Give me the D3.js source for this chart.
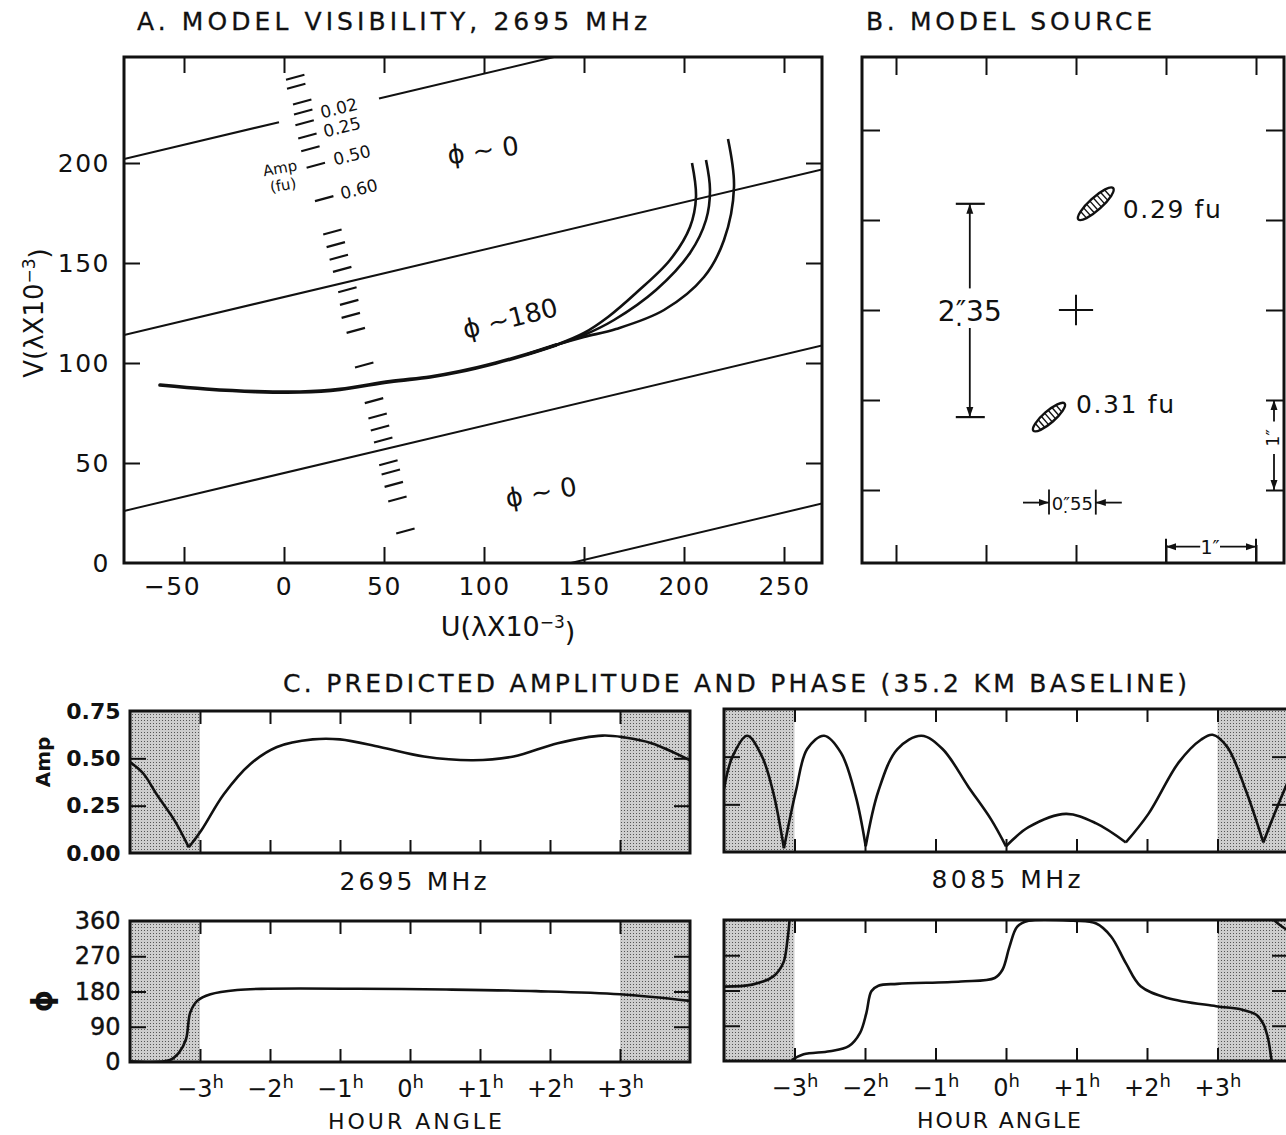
<!DOCTYPE html>
<html>
<head>
<meta charset="utf-8">
<script src="https://cdn.jsdelivr.net/npm/d3@7"></script>
<style>
body { margin: 0; background: #fff; }
svg { display: block; font-family: "DejaVu Sans", sans-serif; }
</style>
</head>
<body>
<div id="chart-area"></div>
<script>
/*
*    model visibility / source / predicted amp + phase
*/

var width = 1286
var height = 1135
var ink = "#111"

// ---- A. uv track (u, v in units of 1000 wavelengths)
var trackCommon = [[-62,89],[-39,87],[-14,85.7],[8,85.5],[28,86.8],[53,90.7],[73,93],[88,95.7],[106,100],[122,104.5],[136,109]]
var trackInner = [[122,104.5],[136,109],[150,115],[162,123],[176,135],[193,151.5],[203,168],[206,183],[204,200]]
var trackMiddle = [[122,104.5],[136,109],[150,114],[165,121.5],[186,136.5],[203,155],[211,171.5],[213,186.5],[211,201.5]]
var trackOuter = [[122,104.5],[136,109],[150,113],[166,117],[190,126.5],[210,143],[220,161.5],[225,188],[222,212]]

// phase boundaries: v = intercept + slope * u
var phaseSlope = 0.237
var phaseIntercepts = [221, 133, 45, -34]
var line1Gap = [-2.5, 47.5]

// amplitude scale marks along the track
var ampMarks = [[5.6,242.9],[6.1,238.4],[9.1,230.5],[9.6,225.5],[10.3,220.1],[11.7,213.5],[13.2,207.1],[15.9,198.9],
  [20.1,182.2],[24.2,165.5],[25.9,159.2],[27.4,152.9],[29.1,146.8],[31.7,136.6],[32.6,130.3],[33.4,123.8],[35.9,116.3],
  [40.1,99],[45,81.2],[46.8,73.5],[48,67.5],[49.6,61.5],[52.2,50.1],[53.4,45.5],[54.9,39.3],[56.7,32],[60.7,16]]
var ampMarkLabels = [["0.02",27.5,227.5],["0.25",29,218],["0.50",34,204],["0.60",37.5,187]]
var ampUnitLabels = [["Amp",-2,197.5],["(fu)",-0.5,189]]
var phaseZoneLabels = [["\u03D5 ~ 0",99.5,206.5,-8],["\u03D5 ~180",113,122.5,-14],["\u03D5 ~ 0",128.5,35.5,-10]]

var uTicks = [-50, 0, 50, 100, 150, 200, 250]
var vTicks = [0, 50, 100, 150, 200]

// ---- B. model source (arcsec from centre)
var srcTicks = [-2, -1, 0, 1, 2]
var components = [
  {x: 0.22, y: 1.18, major: 0.52, minor: 0.14, angle: 42, label: "0.29 fu", lx: 0.52, ly: 1.02},
  {x: -0.30, y: -1.19, major: 0.46, minor: 0.13, angle: 41, label: "0.31 fu", lx: 0.0, ly: -1.14}
]

// ---- C. predicted amplitude and phase vs hour angle
var hours = [-3, -2, -1, 0, 1, 2, 3]
var ampTicks = [0, 0.25, 0.5, 0.75]
var phaseTicks = [0, 90, 180, 270, 360]

var amp2695 = [[-4,0.48],[-3.81,0.42],[-3.62,0.31],[-3.36,0.17],[-3.16,0.03],[-2.98,0.12],[-2.66,0.31],[-2.28,0.47],
  [-1.9,0.56],[-1.39,0.60],[-1.0,0.60],[-0.43,0.56],[0.2,0.51],[0.9,0.49],[1.48,0.51],[2.11,0.58],[2.75,0.62],
  [3.07,0.61],[3.45,0.58],[4,0.49]]
var phase2695 = [[[-4,2],[-3.43,5],[-3.3,24],[-3.2,58],[-3.14,126],[-3.04,156],[-2.85,173],[-2.47,184],[-2.03,187],
  [-0.75,187],[0.52,185],[1.8,181],[3.0,173],[4.0,156]]]

var amp8085 = [[-4,0.33],[-3.88,0.50],[-3.67,0.61],[-3.46,0.50],[-3.3,0.31],[-3.15,0.02],[-2.98,0.32],[-2.82,0.54],
  [-2.58,0.61],[-2.34,0.52],[-2.13,0.29],[-1.99,0.03],[-1.81,0.32],[-1.54,0.54],[-1.2,0.61],[-0.9,0.54],[-0.53,0.34],
  [-0.21,0.17],[0,0.03],[0.32,0.13],[0.85,0.20],[1.28,0.15],[1.7,0.05],[2.02,0.20],[2.45,0.47],[2.77,0.59],
  [2.93,0.615],[3.14,0.55],[3.4,0.325],[3.65,0.05],[3.83,0.22],[4,0.37]]
var phase8085 = [
  [[-4,190],[-3.6,195],[-3.3,216],[-3.16,250],[-3.1,309],[-3.07,360]],
  [[-3.04,2],[-2.87,17],[-2.5,25],[-2.23,38],[-2.07,72],[-1.98,123],[-1.91,178],[-1.81,192],[-1.54,197],[-0.64,203],
   [-0.16,212],[-0.05,233],[0.05,292],[0.16,343],[0.32,358],[0.96,358],[1.28,351],[1.49,318],[1.7,250],[1.91,191],
   [2.29,161],[2.98,140],[3.35,131],[3.55,118],[3.65,95],[3.72,55],[3.76,10],[3.77,0]],
  [[3.8,360],[3.88,348],[4,333]]
]

var svg = d3.select("#chart-area").append("svg")
.attr("width", width)
.attr("height", height)

var defs = svg.append("defs")

var pat = defs.append("pattern").attr("id", "stipple")
.attr("width", 3).attr("height", 3).attr("patternUnits", "userSpaceOnUse")
pat.append("rect").attr("width", 3).attr("height", 3).attr("fill", "#cdcdcd")
pat.append("rect").attr("width", 1).attr("height", 1).attr("fill", "#555")

defs.append("marker").attr("id", "arrow")
.attr("viewBox", "0 0 10 10").attr("refX", 10).attr("refY", 5)
.attr("markerWidth", 10).attr("markerHeight", 10)
.attr("markerUnits", "userSpaceOnUse").attr("orient", "auto")
.append("path").attr("d", "M0,1.5 L10,5 L0,8.5 Z").attr("fill", ink)

var clipCount = 0
function clipTo(x, y, w, h) {
	var id = "clip" + (clipCount++)
	defs.append("clipPath").attr("id", id)
	.append("rect").attr("x", x).attr("y", y).attr("width", w).attr("height", h)
	return "url(#" + id + ")"
}

function styleAxis(sel, size) {
	sel.attr("font-size", null).attr("font-family", null)
	sel.select(".domain").remove()
	sel.selectAll(".tick line").attr("stroke", ink).attr("stroke-width", 2)
	sel.selectAll(".tick text").attr("fill", ink).attr("font-size", size)
}

function title(txt, x, y, len) {
	svg.append("text")
	.attr("x", x).attr("y", y)
	.attr("font-size", 25)
	.attr("textLength", len).attr("lengthAdjust", "spacing")
	.attr("fill", ink).attr("stroke", ink).attr("stroke-width", 0.3)
	.text(txt)
}

// TITLES
title("A. MODEL VISIBILITY, 2695 MHz", 137, 30, 510)
title("B. MODEL SOURCE", 866, 30, 286)
title("C. PREDICTED AMPLITUDE AND PHASE (35.2 KM BASELINE)", 283, 692, 904)

// ================= PANEL A =================
var xA = d3.scaleLinear().domain([-80, 269]).range([124, 822])
var yA = d3.scaleLinear().domain([0, 253]).range([563, 57])

var gA = svg.append("g")
var clipA = clipTo(124, 57, 698, 506)
var lineA = d3.line().x(d => xA(d[0])).y(d => yA(d[1]))

// phase boundary lines
var boundarySegs = []
phaseIntercepts.forEach((b, i) => {
	var f = u => [u, b + phaseSlope * u]
	if (i == 0) {
		boundarySegs.push([f(-80), f(line1Gap[0])])
		boundarySegs.push([f(line1Gap[1]), f(269)])
	} else {
		boundarySegs.push([f(-80), f(269)])
	}
})
gA.append("g").attr("clip-path", clipA)
.selectAll("path").data(boundarySegs).enter().append("path")
.attr("d", lineA)
.attr("fill", "none").attr("stroke", ink).attr("stroke-width", 2)

// amplitude marks
gA.selectAll(".mark").data(ampMarks).enter().append("line")
.attr("class", "mark")
.attr("x1", d => xA(d[0] - 4.6)).attr("y1", d => yA(d[1] - 1.25))
.attr("x2", d => xA(d[0] + 4.6)).attr("y2", d => yA(d[1] + 1.25))
.attr("stroke", ink).attr("stroke-width", 2.2)

gA.selectAll(".marklabel").data(ampMarkLabels).enter().append("text")
.attr("transform", d => "translate(" + xA(d[1]) + "," + yA(d[2]) + ") rotate(-14)")
.attr("text-anchor", "middle").attr("dy", "0.36em")
.attr("font-size", 17).attr("fill", ink)
.text(d => d[0])

gA.selectAll(".unitlabel").data(ampUnitLabels).enter().append("text")
.attr("transform", d => "translate(" + xA(d[1]) + "," + yA(d[2]) + ") rotate(-10)")
.attr("text-anchor", "middle").attr("dy", "0.36em")
.attr("font-size", 15).attr("fill", ink)
.text(d => d[0])

// uv track
var trackLine = d3.line().x(d => xA(d[0])).y(d => yA(d[1])).curve(d3.curveCatmullRom)
gA.selectAll(".branch").data([trackInner, trackMiddle, trackOuter]).enter().append("path")
.attr("d", trackLine)
.attr("fill", "none").attr("stroke", ink).attr("stroke-width", 2.6)
gA.append("path").attr("d", trackLine(trackCommon))
.attr("fill", "none").attr("stroke", ink).attr("stroke-width", 3.6).attr("stroke-linecap", "round")

// phase zone labels
gA.selectAll(".zone").data(phaseZoneLabels).enter().append("text")
.attr("transform", d => "translate(" + xA(d[1]) + "," + yA(d[2]) + ") rotate(" + d[3] + ")")
.attr("text-anchor", "middle").attr("dy", "0.36em")
.attr("font-size", 26).attr("fill", ink)
.text(d => d[0])

// axes
var fmtSigned = d => d < 0 ? "\u2212" + Math.abs(d) : d
gA.append("g").attr("transform", "translate(0,563)")
.call(d3.axisBottom(xA).tickValues(uTicks).tickSize(-16).tickPadding(14).tickFormat(fmtSigned))
.call(g => styleAxis(g, 25))
.selectAll(".tick text").attr("letter-spacing", 1.5).attr("dx", d => d < 0 ? -12 : 0)

gA.append("g").attr("transform", "translate(0,57)")
.call(d3.axisTop(xA).tickValues(uTicks).tickSize(-16).tickFormat(""))
.call(g => styleAxis(g, 24))

gA.append("g").attr("transform", "translate(124,0)")
.call(d3.axisLeft(yA).tickValues(vTicks).tickSize(-16).tickPadding(14))
.call(g => styleAxis(g, 25))
.call(g => g.selectAll(".tick text").attr("letter-spacing", 1.5))
.selectAll(".tick line").filter(d => d == 0).remove()

gA.append("g").attr("transform", "translate(822,0)")
.call(d3.axisRight(yA).tickValues(vTicks.slice(1)).tickSize(-16).tickFormat(""))
.call(g => styleAxis(g, 24))

gA.append("rect").attr("x", 124).attr("y", 57).attr("width", 698).attr("height", 506)
.attr("fill", "none").attr("stroke", ink).attr("stroke-width", 3)

// axis titles
var vLabel = gA.append("text")
.attr("transform", "translate(43,313) rotate(-90)")
.attr("text-anchor", "middle").attr("font-size", 26).attr("fill", ink)
vLabel.append("tspan").text("V(\u03BBX10")
vLabel.append("tspan").attr("dy", "-0.5em").attr("font-size", 17).text("\u22123")
vLabel.append("tspan").attr("dy", "0.5em").text(")")

var uLabel = gA.append("text")
.attr("x", 508).attr("y", 636)
.attr("text-anchor", "middle").attr("font-size", 27).attr("fill", ink)
uLabel.append("tspan").text("U(\u03BBX10")
uLabel.append("tspan").attr("dy", "-0.5em").attr("font-size", 17).text("\u22123")
uLabel.append("tspan").attr("dy", "0.5em").text(")")

// ================= PANEL B =================
var xB = d3.scaleLinear().domain([-214 / 90, 208 / 90]).range([862, 1284])
var yB = d3.scaleLinear().domain([-253 / 90, 253 / 90]).range([563, 57])
var gB = svg.append("g")

gB.append("g").attr("transform", "translate(0,563)")
.call(d3.axisBottom(xB).tickValues(srcTicks).tickSize(-18).tickFormat(""))
.call(g => styleAxis(g, 20))
gB.append("g").attr("transform", "translate(0,57)")
.call(d3.axisTop(xB).tickValues(srcTicks).tickSize(-18).tickFormat(""))
.call(g => styleAxis(g, 20))
gB.append("g").attr("transform", "translate(862,0)")
.call(d3.axisLeft(yB).tickValues(srcTicks).tickSize(-18).tickFormat(""))
.call(g => styleAxis(g, 20))
gB.append("g").attr("transform", "translate(1284,0)")
.call(d3.axisRight(yB).tickValues(srcTicks).tickSize(-18).tickFormat(""))
.call(g => styleAxis(g, 20))

gB.append("rect").attr("x", 862).attr("y", 57).attr("width", 422).attr("height", 506)
.attr("fill", "none").attr("stroke", ink).attr("stroke-width", 3)

// centre cross
var pxPerArcsec = xB(1) - xB(0)
gB.append("line").attr("x1", xB(-0.19)).attr("x2", xB(0.19)).attr("y1", yB(0)).attr("y2", yB(0))
.attr("stroke", ink).attr("stroke-width", 2)
gB.append("line").attr("x1", xB(0)).attr("x2", xB(0)).attr("y1", yB(0.17)).attr("y2", yB(-0.17))
.attr("stroke", ink).attr("stroke-width", 2)

// components
var comp = gB.selectAll(".comp").data(components).enter().append("g")
.attr("transform", d => "translate(" + xB(d.x) + "," + yB(d.y) + ") rotate(" + (-d.angle) + ")")
comp.append("ellipse")
.attr("rx", d => d.major / 2 * pxPerArcsec).attr("ry", d => d.minor / 2 * pxPerArcsec)
.attr("fill", "#fff").attr("stroke", ink).attr("stroke-width", 2.4)
comp.each(function(d) {
	var rx = d.major / 2 * pxPerArcsec, ry = d.minor / 2 * pxPerArcsec
	var xs = d3.range(-rx * 0.7, rx * 0.7 + 0.1, 4.6)
	d3.select(this).selectAll(".hatch").data(xs).enter().append("line")
	.attr("x1", x => x).attr("x2", x => x)
	.attr("y1", x => -ry * Math.sqrt(1 - (x / rx) * (x / rx)))
	.attr("y2", x => ry * Math.sqrt(1 - (x / rx) * (x / rx)))
	.attr("stroke", ink).attr("stroke-width", 1.4)
})
gB.selectAll(".complabel").data(components).enter().append("text")
.attr("x", d => xB(d.lx)).attr("y", d => yB(d.ly))
.attr("font-size", 25).attr("fill", ink)
.attr("textLength", 98).attr("lengthAdjust", "spacing")
.text(d => d.label)

// separation 2.35 arcsec
var sepX = -1.18
var c0 = components[0], c1 = components[1]
gB.selectAll(".bar").data([c0.y, c1.y]).enter().append("line")
.attr("x1", xB(sepX) - 14).attr("x2", xB(sepX) + 15)
.attr("y1", d => yB(d)).attr("y2", d => yB(d))
.attr("stroke", ink).attr("stroke-width", 2.2)
gB.append("line").attr("x1", xB(sepX)).attr("x2", xB(sepX))
.attr("y1", yB(0.24)).attr("y2", yB(c0.y))
.attr("stroke", ink).attr("stroke-width", 1.8).attr("marker-end", "url(#arrow)")
gB.append("line").attr("x1", xB(sepX)).attr("x2", xB(sepX))
.attr("y1", yB(-0.2)).attr("y2", yB(c1.y))
.attr("stroke", ink).attr("stroke-width", 1.8).attr("marker-end", "url(#arrow)")
gB.append("text").attr("x", xB(sepX)).attr("y", yB(0) + 11)
.attr("text-anchor", "middle").attr("font-size", 28).attr("fill", ink)
.text("2\u2033\u032335")

// offset 0.55 arcsec
var offY = -2.14
gB.selectAll(".obar").data([c1.x, c0.x]).enter().append("line")
.attr("x1", d => xB(d)).attr("x2", d => xB(d))
.attr("y1", yB(offY) - 13).attr("y2", yB(offY) + 12)
.attr("stroke", ink).attr("stroke-width", 1.8)
gB.append("line").attr("x1", xB(c1.x) - 26).attr("x2", xB(c1.x))
.attr("y1", yB(offY)).attr("y2", yB(offY))
.attr("stroke", ink).attr("stroke-width", 1.8).attr("marker-end", "url(#arrow)")
gB.append("line").attr("x1", xB(c0.x) + 26).attr("x2", xB(c0.x))
.attr("y1", yB(offY)).attr("y2", yB(offY))
.attr("stroke", ink).attr("stroke-width", 1.8).attr("marker-end", "url(#arrow)")
gB.append("text").attr("x", (xB(c0.x) + xB(c1.x)) / 2).attr("y", yB(offY) + 7)
.attr("text-anchor", "middle").attr("font-size", 18).attr("fill", ink)
.text("0\u2033\u032355")

// 1 arcsec scale, bottom
var scaleY = -2.63
gB.append("line").attr("x1", xB(1.38)).attr("x2", xB(1))
.attr("y1", yB(scaleY)).attr("y2", yB(scaleY))
.attr("stroke", ink).attr("stroke-width", 1.8).attr("marker-end", "url(#arrow)")
gB.append("line").attr("x1", xB(1.6)).attr("x2", xB(2))
.attr("y1", yB(scaleY)).attr("y2", yB(scaleY))
.attr("stroke", ink).attr("stroke-width", 1.8).attr("marker-end", "url(#arrow)")
gB.append("line").attr("x1", xB(1)).attr("x2", xB(1)).attr("y1", yB(scaleY) - 8).attr("y2", 563)
.attr("stroke", ink).attr("stroke-width", 2)
gB.append("line").attr("x1", xB(2)).attr("x2", xB(2)).attr("y1", yB(scaleY) - 8).attr("y2", 563)
.attr("stroke", ink).attr("stroke-width", 2)
gB.append("text").attr("x", xB(1.49)).attr("y", yB(scaleY) + 7)
.attr("text-anchor", "middle").attr("font-size", 19).attr("fill", ink).text("1\u2033")

// 1 arcsec scale, right side
var scaleX = 2.2
gB.append("line").attr("x1", xB(scaleX)).attr("x2", xB(scaleX))
.attr("y1", yB(-1.24)).attr("y2", yB(-1))
.attr("stroke", ink).attr("stroke-width", 1.8).attr("marker-end", "url(#arrow)")
gB.append("line").attr("x1", xB(scaleX)).attr("x2", xB(scaleX))
.attr("y1", yB(-1.6)).attr("y2", yB(-2))
.attr("stroke", ink).attr("stroke-width", 1.8).attr("marker-end", "url(#arrow)")
gB.append("text")
.attr("transform", "translate(" + (xB(scaleX) + 5) + "," + yB(-1.42) + ") rotate(-90)")
.attr("text-anchor", "middle").attr("font-size", 17).attr("fill", ink).text("1\u2033")

// ================= PANEL C =================
var xL = d3.scaleLinear().domain([-4, 4]).range([130, 690])
var xR = d3.scaleLinear().domain([-4, 4]).range([724, 1288])
var yAmp = d3.scaleLinear().domain([0, 0.75]).range([853, 711])
var yAmpR = d3.scaleLinear().domain([0, 0.75]).range([852, 709])
var yPh = d3.scaleLinear().domain([0, 360]).range([1062, 921])
var yPhR = d3.scaleLinear().domain([0, 360]).range([1061, 920])

function splitAtCusps(pts) {
	var parts = [], cur = [pts[0]]
	for (var i = 1; i < pts.length; i++) {
		cur.push(pts[i])
		if (i < pts.length - 1 && pts[i][1] < 0.08 && pts[i][1] <= pts[i - 1][1] && pts[i][1] <= pts[i + 1][1]) {
			parts.push(cur)
			cur = [pts[i]]
		}
	}
	parts.push(cur)
	return parts
}

function hourText(sel) {
	sel.selectAll(".tick text").each(function(d) {
		var t = d3.select(this).text(null)
		t.append("tspan").text(d < 0 ? "\u2212" + (-d) : d > 0 ? "+" + d : "0")
		t.append("tspan").attr("dy", "-0.5em").attr("font-size", "0.75em").text("h")
	})
}

function strip(xs, ys, segs, yTicks, inner, opts) {
	var x0 = xs.range()[0], x1 = xs.range()[1]
	var yTop = ys.range()[1], yBot = ys.range()[0]
	var g = svg.append("g")

	g.selectAll(".shade").data([[-4, -3], [3, 4]]).enter().append("rect")
	.attr("x", d => xs(d[0])).attr("width", d => xs(d[1]) - xs(d[0]))
	.attr("y", yTop).attr("height", yBot - yTop)
	.attr("fill", "url(#stipple)")

	var line = d3.line().x(d => xs(d[0])).y(d => ys(d[1])).curve(d3.curveCatmullRom)
	g.append("g").attr("clip-path", clipTo(x0, yTop, x1 - x0, yBot - yTop))
	.selectAll("path").data(segs).enter().append("path")
	.attr("d", line)
	.attr("fill", "none").attr("stroke", ink).attr("stroke-width", 2.6)

	// hour ticks, top and bottom
	var bottom = g.append("g").attr("transform", "translate(0," + yBot + ")")
	.call(d3.axisBottom(xs).tickValues(hours).tickSize(-13).tickPadding(18))
	.call(s => styleAxis(s, 24))
	if (opts.hourLabels) bottom.call(hourText)
	else bottom.selectAll(".tick text").remove()

	g.append("g").attr("transform", "translate(0," + yTop + ")")
	.call(d3.axisTop(xs).tickValues(hours).tickSize(-13).tickFormat(""))
	.call(s => styleAxis(s, 23))

	// value ticks, left and right
	var left = g.append("g").attr("transform", "translate(" + x0 + ",0)")
	.call(d3.axisLeft(ys).tickValues(opts.yLabels ? yTicks : inner).tickSize(-16).tickPadding(9.5)
		.tickFormat(opts.yLabels ? opts.fmt : ""))
	.call(s => styleAxis(s, opts.bold ? 22 : 24))
	left.selectAll(".tick line").filter(d => inner.indexOf(d) < 0).remove()
	if (opts.bold) left.selectAll(".tick text").attr("font-weight", "bold")
	else left.selectAll(".tick text").attr("stroke", ink).attr("stroke-width", 0.4)

	g.append("g").attr("transform", "translate(" + x1 + ",0)")
	.call(d3.axisRight(ys).tickValues(inner).tickSize(-16).tickFormat(""))
	.call(s => styleAxis(s, 20))

	g.append("rect").attr("x", x0).attr("y", yTop).attr("width", x1 - x0).attr("height", yBot - yTop)
	.attr("fill", "none").attr("stroke", ink).attr("stroke-width", 3)
	return g
}

strip(xL, yAmp, splitAtCusps(amp2695), ampTicks, [0.25, 0.5], {yLabels: true, bold: true, fmt: d3.format(".2f")})
strip(xR, yAmpR, splitAtCusps(amp8085), ampTicks, [0.25, 0.5], {yLabels: false})
strip(xL, yPh, phase2695, phaseTicks, [90, 180, 270], {yLabels: true, fmt: d3.format("d"), hourLabels: true})
strip(xR, yPhR, phase8085, phaseTicks, [90, 180, 270], {yLabels: false, hourLabels: true})

// strip labels
svg.append("text").attr("transform", "translate(50,762) rotate(-90)")
.attr("text-anchor", "middle").attr("font-size", 20).attr("font-weight", "bold").attr("fill", ink).text("Amp")
svg.append("text").attr("transform", "translate(52,1001) rotate(-90)")
.attr("text-anchor", "middle").attr("font-size", 28).attr("font-weight", "bold").attr("fill", ink).text("\u03D5")

svg.append("text").attr("x", 413).attr("y", 890).attr("text-anchor", "middle")
.attr("font-size", 25).attr("textLength", 147).attr("fill", ink).text("2695 MHz")
svg.append("text").attr("x", 1006).attr("y", 888).attr("text-anchor", "middle")
.attr("font-size", 25).attr("textLength", 149).attr("fill", ink).text("8085 MHz")

svg.append("text").attr("x", 415).attr("y", 1129).attr("text-anchor", "middle")
.attr("font-size", 22).attr("textLength", 174).attr("fill", ink).text("HOUR ANGLE")
svg.append("text").attr("x", 999).attr("y", 1128).attr("text-anchor", "middle")
.attr("font-size", 22).attr("textLength", 164).attr("fill", ink).text("HOUR ANGLE")
</script>
</body>
</html>
